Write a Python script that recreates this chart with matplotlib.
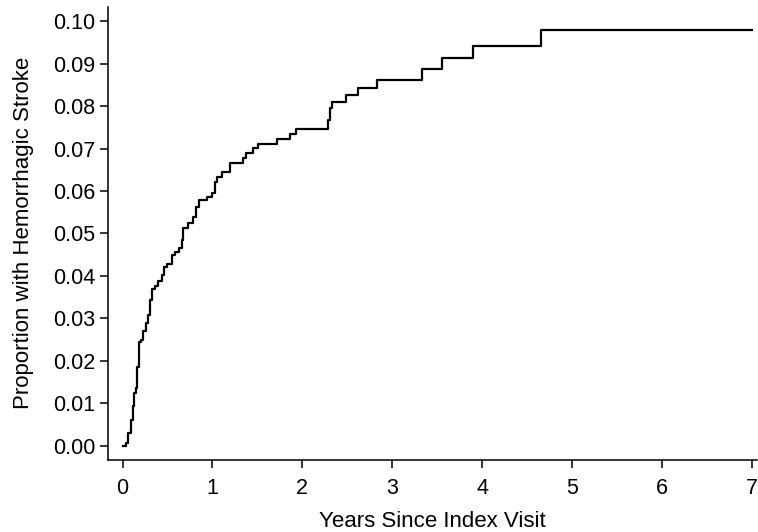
import matplotlib
matplotlib.use("Agg")
import matplotlib.pyplot as plt

# Cumulative proportion with hemorrhagic stroke (step function, value after each event time)
years = [0.0, 0.007, 0.037, 0.062, 0.089, 0.118, 0.129, 0.148, 0.162, 0.181, 0.204,
         0.223, 0.259, 0.285, 0.304, 0.323, 0.359, 0.396, 0.434, 0.463, 0.490,
         0.545, 0.582, 0.630, 0.657, 0.674, 0.730, 0.779, 0.812, 0.849, 0.941,
         0.990, 1.027, 1.049, 1.105, 1.194, 1.339, 1.372, 1.450, 1.506, 1.717,
         1.861, 1.928, 2.284, 2.306, 2.328, 2.484, 2.616, 2.828, 3.329, 3.552,
         3.898, 4.655, 7.0]
proportion = [0.0, 0.0, 0.0005, 0.0029, 0.0060, 0.0092, 0.0123, 0.0135, 0.0186, 0.0245, 0.0249,
              0.0269, 0.0288, 0.0308, 0.0343, 0.0369, 0.0376, 0.0387, 0.0402, 0.0420, 0.0428,
              0.0450, 0.0457, 0.0465, 0.0485, 0.0513, 0.0524, 0.0538, 0.0563, 0.0578, 0.0587,
              0.0595, 0.0622, 0.0634, 0.0645, 0.0667, 0.0678, 0.0690, 0.0702, 0.0711, 0.0723,
              0.0734, 0.0746, 0.0768, 0.0796, 0.0811, 0.0827, 0.0844, 0.0861, 0.0888, 0.0914,
              0.0941, 0.0980, 0.0980]

x_ticks = [0, 1, 2, 3, 4, 5, 6, 7]
y_ticks = [0.00, 0.01, 0.02, 0.03, 0.04, 0.05, 0.06, 0.07, 0.08, 0.09, 0.10]

plt.rcParams['font.family'] = ['Liberation Sans', 'DejaVu Sans']

fig = plt.figure(figsize=(7.58, 5.32), dpi=100)
ax = fig.add_axes([108 / 758, 1 - 459.5 / 532, (757 - 108) / 758, (459.5 - 7) / 532])

ax.step(years, proportion, where='post', color='black', lw=1.6)

ax.set_xlim(-0.163, 7.06)
ax.set_ylim(-0.0033, 0.1034)
ax.set_xticks(x_ticks)
ax.set_yticks(y_ticks)
ax.set_yticklabels([f"{v:.2f}" for v in y_ticks])

for side in ['top', 'right']:
    ax.spines[side].set_visible(False)
for side in ['left', 'bottom']:
    ax.spines[side].set_linewidth(1.1)

ax.tick_params(axis='both', direction='out', length=6, width=1.1, labelsize=15.5)
ax.tick_params(axis='x', pad=7)
ax.tick_params(axis='y', pad=3)
ax.set_xlabel('Years Since Index Visit', fontsize=16, labelpad=9)
ax.set_ylabel('Proportion with Hemorrhagic Stroke', fontsize=16, labelpad=14)

fig.savefig('out.png', dpi=100)
